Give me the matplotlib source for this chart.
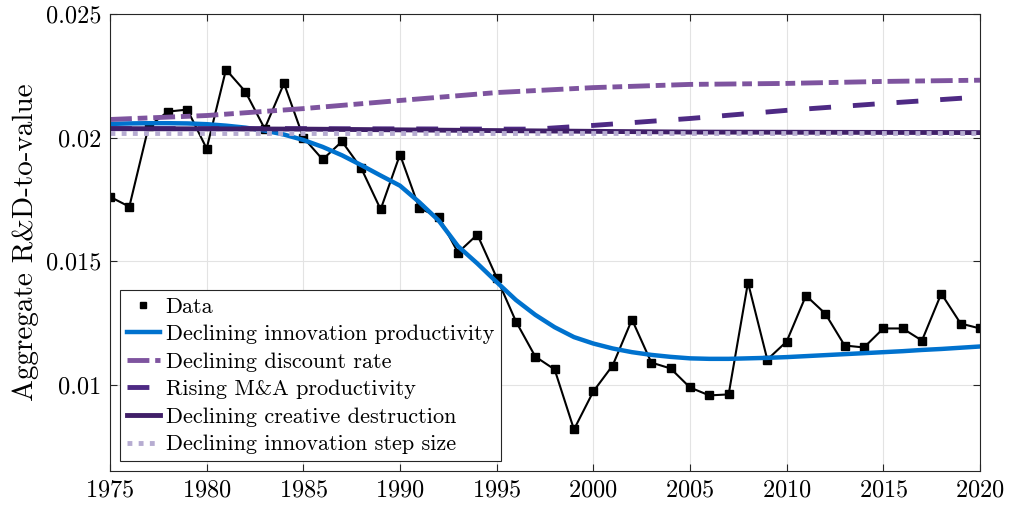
import matplotlib
matplotlib.use('Agg')
from matplotlib import pyplot as plt
from matplotlib.lines import Line2D
from matplotlib.ticker import FixedLocator

plt.rcParams['font.family'] = 'serif'
plt.rcParams['font.serif'] = ['cmr10']
plt.rcParams['mathtext.fontset'] = 'cm'
plt.rcParams['axes.formatter.use_mathtext'] = True

# data
years = list(range(1975, 2021))
data = [0.0176, 0.0172, 0.02045, 0.02105, 0.02113, 0.01955, 0.02275, 0.02186, 0.02036, 0.02219,
        0.0200, 0.01911, 0.01984, 0.01875, 0.01709, 0.01931, 0.01713, 0.0168, 0.01534, 0.01607,
        0.01433, 0.01255, 0.01113, 0.01061, 0.00818, 0.00972, 0.01077, 0.01263, 0.01089, 0.01065,
        0.00988, 0.00956, 0.0096, 0.01413, 0.01101, 0.01174, 0.0136, 0.01287, 0.01158, 0.0115,
        0.01227, 0.01227, 0.01178, 0.01368, 0.01247, 0.01227]

innov_prod = [0.02055, 0.02057, 0.02058, 0.02058, 0.02057, 0.02054, 0.02048, 0.02040, 0.02028, 0.02012,
              0.01990, 0.01962, 0.01928, 0.01888, 0.01846, 0.01805, 0.01738, 0.01664, 0.01560, 0.01490,
              0.01415, 0.01342, 0.01282, 0.01232, 0.01192, 0.01166, 0.01146, 0.01131, 0.01120, 0.01112,
              0.01106, 0.01104, 0.01104, 0.01106, 0.01108, 0.01111, 0.01115, 0.01119, 0.01123, 0.01127,
              0.01131, 0.01135, 0.01140, 0.01144, 0.01149, 0.01154]

disc_years = [1975, 1980, 1985, 1990, 1995, 2000, 2005, 2010, 2015, 2020]
disc_rate = [0.02073, 0.02089, 0.02117, 0.02150, 0.02182, 0.02202, 0.02215, 0.02219, 0.02227, 0.02232]

ma_years = [1975, 1980, 1985, 1990, 1995, 1997, 2000, 2005, 2010, 2015, 2020]
ma_prod = [0.02036, 0.02036, 0.02036, 0.02035, 0.02034, 0.02034, 0.02049, 0.02077, 0.02110, 0.02138, 0.02164]

cd_years = [1975, 1985, 1995, 2005, 2020]
creative = [0.02036, 0.02034, 0.02028, 0.02022, 0.02020]

step_years = [1975, 2020]
step_size = [0.02020, 0.02020]

labels = ['Data', 'Declining innovation productivity', 'Declining discount rate',
          'Rising M&A productivity', 'Declining creative destruction',
          'Declining innovation step size']
yticks = [0.01, 0.015, 0.02, 0.025]
ytick_labels = ['0.01', '0.015', '0.02', '0.025']
xticks = list(range(1975, 2021, 5))

fig = plt.figure(figsize=(10.11, 5.13), dpi=100)
ax = fig.add_axes([0.1088, 0.0819, 0.8605, 0.8908])

ax.plot(years, data, 'k-', lw=1.5, marker='s', ms=6)
l1, = ax.plot(years, innov_prod, color='#0072CE', lw=3.2)
l2, = ax.plot(disc_years, disc_rate, color='#7E549F', lw=3.5, dashes=(4.5, 1.2, 2, 1.2))
l3, = ax.plot(ma_years, ma_prod, color='#4E2A84', lw=3.5, dashes=(4.5, 4.5))
l4, = ax.plot(cd_years, creative, color='#401F68', lw=3.5)
l5, = ax.plot(step_years, step_size, color='#B6ACD1', lw=3.5, dashes=(1, 1.3))

ax.set_xlim(1975, 2020)
ax.set_ylim(0.0065, 0.025)
ax.xaxis.set_major_locator(FixedLocator(xticks))
ax.set_yticks(yticks)
ax.set_yticklabels(ytick_labels)
ax.tick_params(direction='in', length=5, width=0.8, labelsize=17.5, color='#262626',
               top=True, right=True, pad=6)
ax.grid(True, color='#E3E3E3', lw=0.8)
ax.set_axisbelow(True)
for s in ax.spines.values():
    s.set_color('#262626')
    s.set_linewidth(0.8)
ax.set_ylabel('Aggregate R&D-to-value', fontsize=21, labelpad=5)

# legend shows only the marker for the data series
data_handle = Line2D([], [], ls='none', marker='s', ms=5, color='k')
leg = ax.legend([data_handle, l1, l2, l3, l4, l5], labels, loc='lower left', fontsize=16,
                fancybox=False, framealpha=1, edgecolor='#262626', handlelength=1.5,
                handletextpad=0.25, labelspacing=0.36, borderpad=0.3, borderaxespad=0.45)
leg.get_frame().set_linewidth(0.8)

fig.savefig('out.png', dpi=100)
